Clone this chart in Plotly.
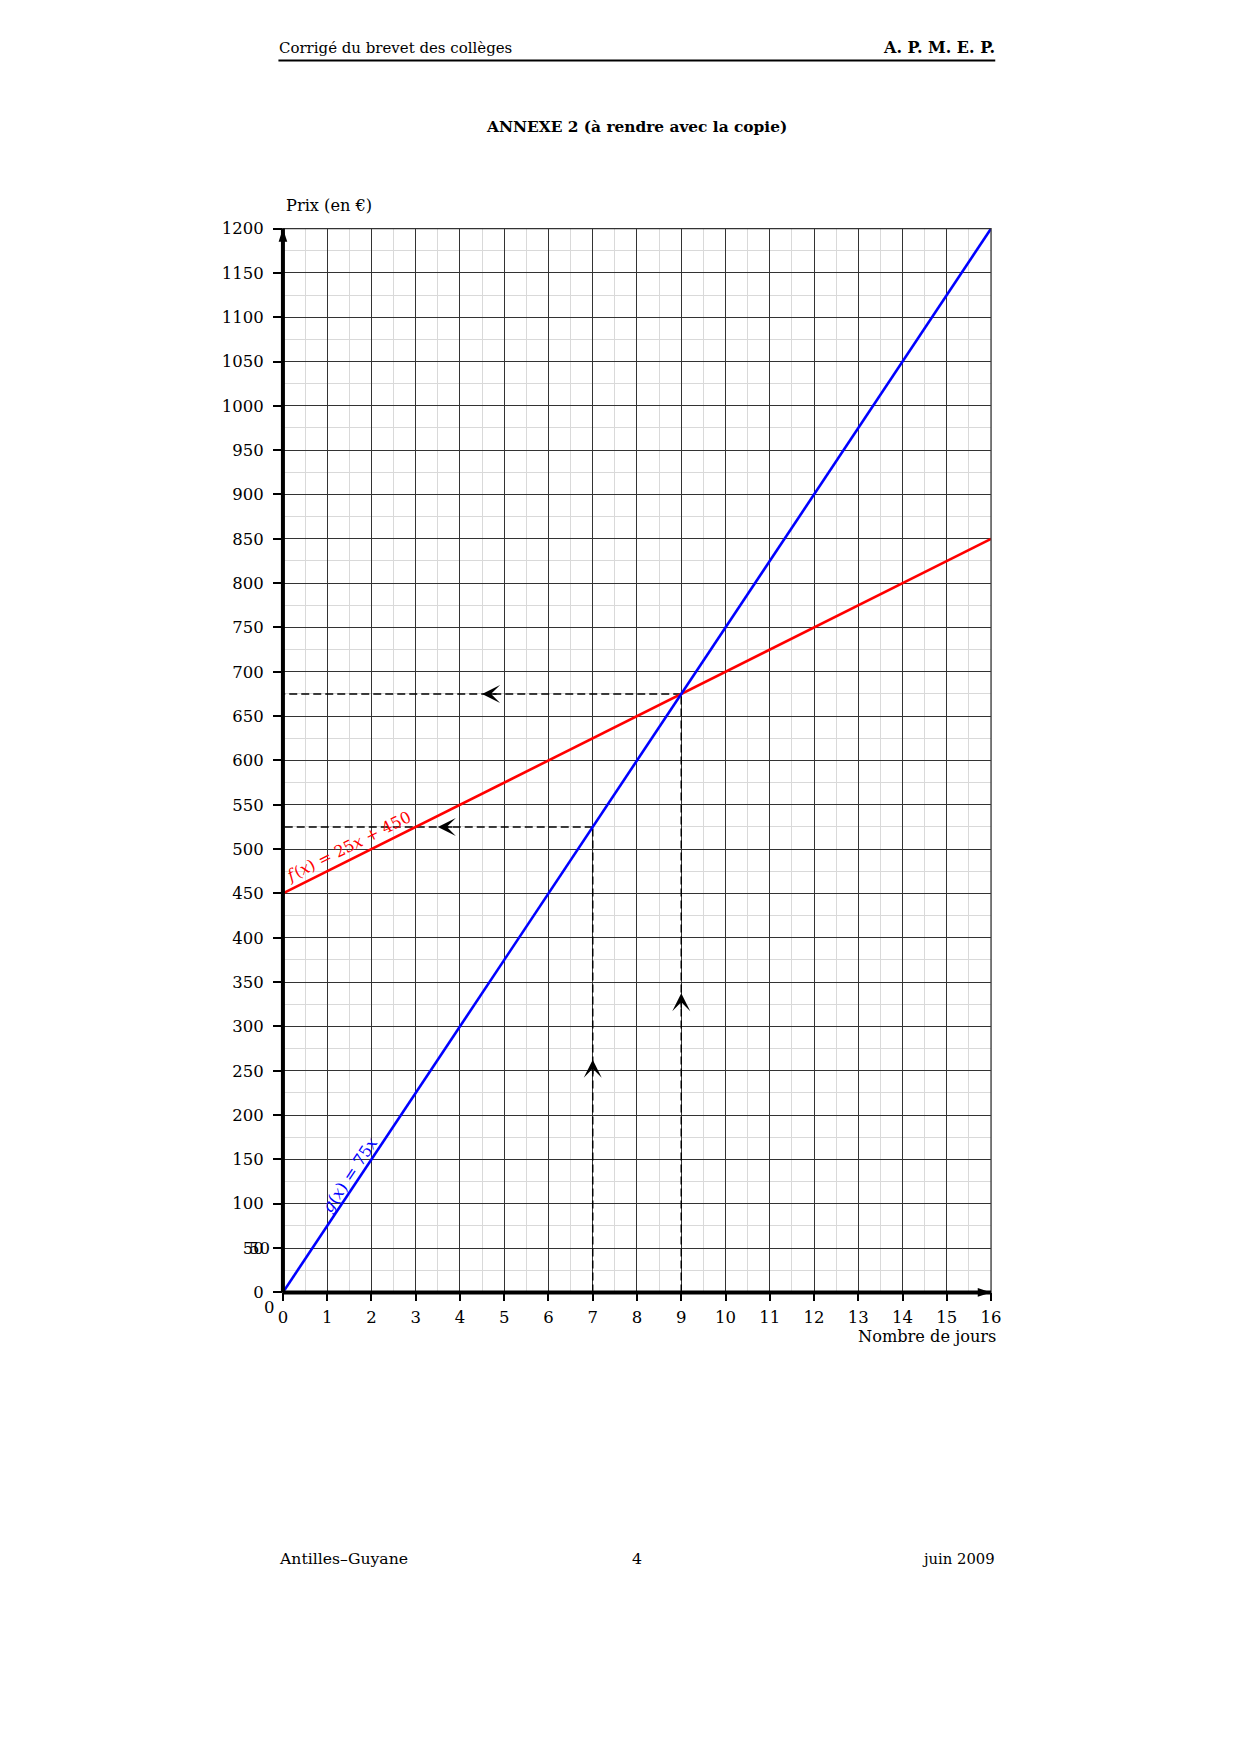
import plotly.graph_objects as go

# Figure canvas; the photographed page maps figure pixels to page pixels as
# page = S * fig + (AX, AY)  (measured), so reference page coordinates are converted.
W, H = 1224, 1738
S, AX, AY = 0.988, 12.5, 16.5

# ---------------- data ----------------
x_ticks = list(range(0, 17))
x_tick_text = [str(v) for v in x_ticks]
y_ticks = list(range(0, 1201, 50))
y_tick_text = [str(v) for v in y_ticks]

f_x = [0, 16]
f_y = [450, 850]      # f(x) = 25x + 450
g_x = [0, 16]
g_y = [0, 1200]       # g(x) = 75x

guide_days = [7, 9]
guide_prices = [525, 675]

header_left = "Corrigé du brevet des collèges"
header_right = "A. P. M. E. P."
title_text = "ANNEXE 2 (à rendre avec la copie)"
footer_left = "Antilles–Guyane"
footer_mid = "4"
footer_right = "juin 2009"
x_title = "Nombre de jours"
y_title = "Prix (en €)"
f_label = "<i>f</i>\u200a(<i>x</i>) = 25<i>x</i> + 450"
g_label = "<i>g</i>(<i>x</i>) = 75<i>x</i>"

# ---------------- geometry (reference page pixels) ----------------
PX0, PX1 = 282.5, 990.8       # x = 0 .. 16
PY0, PY1 = 1290.5, 227.8      # y = 0 .. 1200 (from top)
FONT = "DejaVu Serif"


def fx(p):
    return ((p - AX) / S) / W


def fy(p):
    return 1 - ((p - AY) / S) / H


def fs(size):
    return size / S


def sh(v):
    return v / S


fig = go.Figure()

# dashed guide lines
for d, p in zip(guide_days, guide_prices):
    fig.add_trace(go.Scatter(x=[d, d], y=[0, p], mode="lines",
                             line=dict(color="black", width=1.5, dash="8px,4px"),
                             hoverinfo="skip", showlegend=False))
    fig.add_trace(go.Scatter(x=[d, 0], y=[p, p], mode="lines",
                             line=dict(color="black", width=1.5, dash="8px,4px"),
                             hoverinfo="skip", showlegend=False))

# function lines
fig.add_trace(go.Scatter(x=f_x, y=f_y, mode="lines",
                         line=dict(color="#ff0000", width=2.6), showlegend=False))
fig.add_trace(go.Scatter(x=g_x, y=g_y, mode="lines",
                         line=dict(color="#0000ff", width=2.6), showlegend=False))

# axis arrowheads
fig.add_trace(go.Scatter(x=[x_ticks[-1]], y=[0], mode="markers", cliponaxis=False,
                         marker=dict(symbol="arrow", angleref="up", angle=90, size=14,
                                     color="black"),
                         hoverinfo="skip", showlegend=False))
fig.add_trace(go.Scatter(x=[0], y=[y_ticks[-1]], mode="markers", cliponaxis=False,
                         marker=dict(symbol="arrow", angleref="up", angle=0, size=14,
                                     color="black"),
                         hoverinfo="skip", showlegend=False))

annotations = []
# mid arrows on dashed guides
for d, p in zip(guide_days, guide_prices):
    annotations.append(dict(x=d / 2, y=p, xref="x", yref="y", text="", showarrow=True,
                            ax=16, ay=0, arrowhead=3, arrowsize=2.0, arrowwidth=1.5,
                            arrowcolor="black"))
    annotations.append(dict(x=d, y=p / 2, xref="x", yref="y", text="", showarrow=True,
                            ax=0, ay=16, arrowhead=3, arrowsize=2.0, arrowwidth=1.5,
                            arrowcolor="black"))

# line labels
fxl = 1.626
annotations.append(dict(x=fxl, y=f_y[0] + (f_y[1] - f_y[0]) / 16 * fxl, xref="x", yref="y",
                        text=f_label, showarrow=False, textangle=-26.57,
                        xanchor="center", yanchor="middle", xshift=sh(-6.5), yshift=sh(11),
                        font=dict(family=FONT, size=fs(15.8), color="#ff0000")))
gxl = 1.683
annotations.append(dict(x=gxl, y=g_y[0] + (g_y[1] - g_y[0]) / 16 * gxl, xref="x", yref="y",
                        text=g_label, showarrow=False, textangle=-56.31,
                        xanchor="center", yanchor="middle", xshift=sh(-7), yshift=sh(5.5),
                        font=dict(family=FONT, size=fs(16), color="#0000ff")))

# odd overlapping "50" tick label and extra origin "0"
annotations.append(dict(x=0, y=50, xref="x", yref="y", text="50", showarrow=False,
                        xanchor="right", yanchor="middle", xshift=sh(-10.8),
                        font=dict(family=FONT, size=fs(16.3), color="black")))
annotations.append(dict(x=0, y=0, xref="x", yref="y", text="0", showarrow=False,
                        xanchor="center", yanchor="middle", xshift=sh(-13), yshift=sh(-14.5),
                        font=dict(family=FONT, size=fs(16.3), color="black")))

# axis titles
annotations.append(dict(x=fx(284), y=fy(204.5), xref="paper", yref="paper", text=y_title,
                        showarrow=False, xanchor="left", yanchor="middle",
                        font=dict(family=FONT, size=fs(16), color="black")))
annotations.append(dict(x=fx(998), y=fy(1335), xref="paper", yref="paper", text=x_title,
                        showarrow=False, xanchor="right", yanchor="middle",
                        font=dict(family=FONT, size=fs(16), color="black")))

# page header / title / footer
annotations += [
    dict(x=fx(277), y=fy(47), xref="paper", yref="paper", text=header_left, showarrow=False,
         xanchor="left", yanchor="middle", font=dict(family=FONT, size=fs(14.8), color="black")),
    dict(x=fx(997), y=fy(47), xref="paper", yref="paper", text="<b>" + header_right + "</b>",
         showarrow=False, xanchor="right", yanchor="middle",
         font=dict(family=FONT, size=fs(15.8), color="black")),
    dict(x=fx(636), y=fy(126), xref="paper", yref="paper", text="<b>" + title_text + "</b>",
         showarrow=False, xanchor="center", yanchor="middle",
         font=dict(family=FONT, size=fs(15.2), color="black")),
    dict(x=fx(277), y=fy(1556), xref="paper", yref="paper", text=footer_left, showarrow=False,
         xanchor="left", yanchor="middle", font=dict(family=FONT, size=fs(15.5), color="black")),
    dict(x=fx(637), y=fy(1556), xref="paper", yref="paper", text=footer_mid, showarrow=False,
         xanchor="center", yanchor="middle", font=dict(family=FONT, size=fs(15.5), color="black")),
    dict(x=fx(997), y=fy(1556), xref="paper", yref="paper", text=footer_right, showarrow=False,
         xanchor="right", yanchor="middle", font=dict(family=FONT, size=fs(14.6), color="black")),
]

shapes = [
    # header rule
    dict(type="line", xref="paper", yref="paper", x0=fx(278), x1=fx(995), y0=fy(60), y1=fy(60),
         line=dict(color="black", width=2)),
    # plot border (top / right grid edges)
    dict(type="rect", xref="x domain", yref="y domain", x0=0, x1=1, y0=0, y1=1,
         line=dict(color="#333333", width=1.3), layer="above"),
    # thick axes
    dict(type="line", xref="x domain", yref="y domain", x0=0, x1=1, y0=0, y1=0,
         line=dict(color="black", width=4), layer="above"),
    dict(type="line", xref="x domain", yref="y domain", x0=0, x1=0, y0=0, y1=1,
         line=dict(color="black", width=4), layer="above"),
]

fig.update_layout(
    width=W, height=H, autosize=False,
    margin=dict(l=0, r=0, t=0, b=0, pad=0),
    paper_bgcolor="white", plot_bgcolor="white",
    showlegend=False,
    annotations=annotations,
    shapes=shapes,
    xaxis=dict(
        domain=[fx(PX0), fx(PX1)], range=[0, 16], anchor="y",
        tickmode="array", tickvals=x_ticks, ticktext=x_tick_text,
        ticks="outside", ticklen=8, tickwidth=1.5, tickcolor="black",
        ticklabelstandoff=2,
        showgrid=True, gridcolor="#333333", gridwidth=1.2,
        minor=dict(tickmode="linear", tick0=0, dtick=0.5, showgrid=True,
                   gridcolor="#d9d9d9", gridwidth=1),
        zeroline=False, showline=False, fixedrange=True,
        tickfont=dict(family=FONT, size=fs(16.3), color="black"),
    ),
    yaxis=dict(
        domain=[fy(PY0), fy(PY1)], range=[0, 1200], anchor="x",
        tickmode="array", tickvals=y_ticks, ticktext=y_tick_text,
        ticks="outside", ticklen=9, tickwidth=1.5, tickcolor="black",
        ticklabelstandoff=6,
        showgrid=True, gridcolor="#333333", gridwidth=1.2,
        minor=dict(tickmode="linear", tick0=0, dtick=25, showgrid=True,
                   gridcolor="#d9d9d9", gridwidth=1),
        zeroline=False, showline=False, fixedrange=True,
        tickfont=dict(family=FONT, size=fs(16.3), color="black"),
    ),
)

fig.write_html("out.html")
